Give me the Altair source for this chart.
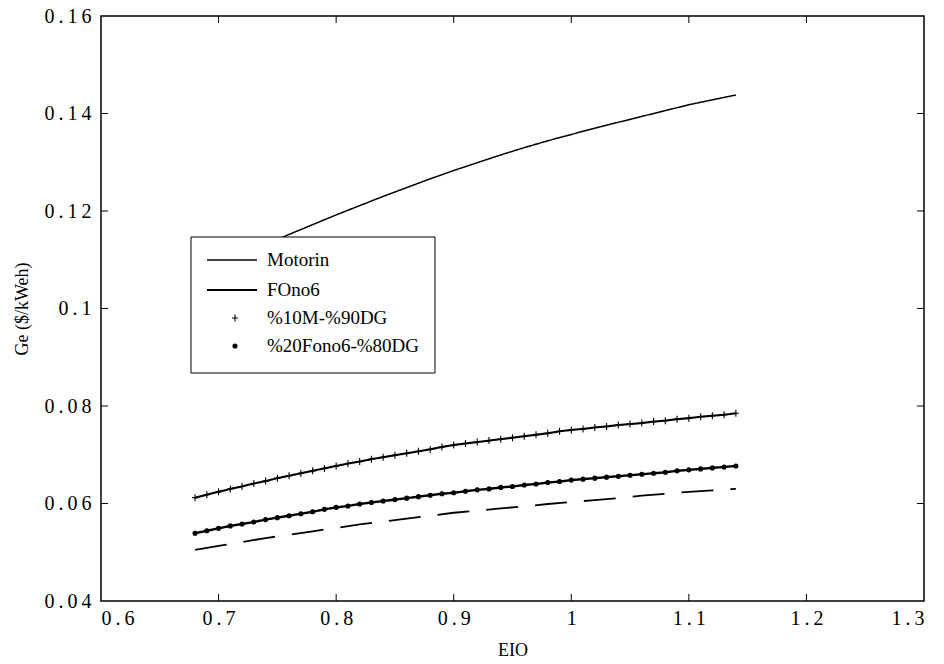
import altair as alt
import pandas as pd

series_names = ["Motorin", "FOno6", "%10M-%90DG", "%20Fono6-%80DG"]

# coarse grid for the two plain lines
x_line = [0.68, 0.70, 0.72, 0.74, 0.76, 0.78, 0.80, 0.82, 0.84, 0.86, 0.88, 0.90,
          0.92, 0.94, 0.96, 0.98, 1.00, 1.02, 1.04, 1.06, 1.08, 1.10, 1.12, 1.14]
motorin = [0.1065, 0.1088, 0.1110, 0.1131, 0.1152, 0.1172, 0.1192, 0.1211, 0.1230,
           0.1248, 0.1266, 0.1283, 0.1299, 0.1315, 0.1330, 0.1344, 0.1357, 0.1370,
           0.1382, 0.1394, 0.1406, 0.1418, 0.1428, 0.1438]
fono6 = [0.0505, 0.0513, 0.0521, 0.0529, 0.0536, 0.0543, 0.0550, 0.0557, 0.0563,
         0.0569, 0.0575, 0.0581, 0.0585, 0.0590, 0.0594, 0.0599, 0.0603, 0.0607,
         0.0611, 0.0616, 0.0620, 0.0624, 0.0627, 0.0630]

# fine grid for the marked series
x_mark = [0.68, 0.69, 0.70, 0.71, 0.72, 0.73, 0.74, 0.75, 0.76, 0.77, 0.78, 0.79,
          0.80, 0.81, 0.82, 0.83, 0.84, 0.85, 0.86, 0.87, 0.88, 0.89, 0.90, 0.91,
          0.92, 0.93, 0.94, 0.95, 0.96, 0.97, 0.98, 0.99, 1.00, 1.01, 1.02, 1.03,
          1.04, 1.05, 1.06, 1.07, 1.08, 1.09, 1.10, 1.11, 1.12, 1.13, 1.14]
m10_dg90 = [0.0612, 0.0618, 0.0624, 0.0630, 0.0635, 0.0641, 0.0646, 0.0652, 0.0657,
            0.0662, 0.0667, 0.0672, 0.0677, 0.0682, 0.0686, 0.0691, 0.0695, 0.0699,
            0.0703, 0.0707, 0.0711, 0.0716, 0.0720, 0.0723, 0.0726, 0.0729, 0.0732,
            0.0735, 0.0738, 0.0741, 0.0744, 0.0748, 0.0751, 0.0753, 0.0756, 0.0758,
            0.0761, 0.0763, 0.0765, 0.0768, 0.0770, 0.0773, 0.0775, 0.0778, 0.0780,
            0.0782, 0.0785]
f20_dg80 = [0.0539, 0.0544, 0.0549, 0.0554, 0.0558, 0.0562, 0.0567, 0.0571, 0.0575,
            0.0579, 0.0583, 0.0588, 0.0592, 0.0595, 0.0599, 0.0602, 0.0605, 0.0608,
            0.0611, 0.0614, 0.0617, 0.0620, 0.0622, 0.0625, 0.0628, 0.0630, 0.0633,
            0.0635, 0.0638, 0.0640, 0.0643, 0.0645, 0.0648, 0.0650, 0.0652, 0.0654,
            0.0656, 0.0658, 0.0660, 0.0662, 0.0664, 0.0667, 0.0669, 0.0671, 0.0673,
            0.0675, 0.0677]

x_ticks = [0.6, 0.7, 0.8, 0.9, 1.0, 1.1, 1.2, 1.3]
y_ticks = [0.04, 0.06, 0.08, 0.10, 0.12, 0.14, 0.16]

rows = []
for xs, ys, name in [(x_line, motorin, series_names[0]), (x_line, fono6, series_names[1]),
                     (x_mark, m10_dg90, series_names[2]), (x_mark, f20_dg80, series_names[3])]:
    for a, b in zip(xs, ys):
        rows.append({"x": a, "y": b, "series": name, "line_key": name})
df = pd.DataFrame(rows)

W, H = 823, 585
FONT = "Liberation Serif"
SPACED = "join(split({v}, ''), '\u2009')"

xscale = alt.Scale(domain=[0.6, 1.3], nice=False, zero=False)
yscale = alt.Scale(domain=[0.04, 0.16], nice=False, zero=False)
xaxis = alt.Axis(values=x_ticks, labelExpr=SPACED.format(v="format(datum.value, '~g')"),
                 labelPadding=7, titlePadding=13)
yaxis = alt.Axis(values=y_ticks, labelExpr=SPACED.format(v="format(datum.value, '~g')"),
                 labelPadding=10, titlePadding=12)

PLUS = "M-0.6,0L0.6,0M0,-0.7L0,0.7"
DOT = "M-0.4,0A0.4,0.4,0,1,1,0.4,0A0.4,0.4,0,1,1,-0.4,0Z"
shape_paths = ["M-5,0L5,0", "M-5,0L5,0", PLUS, DOT]


def X(field):
    return alt.X(field, scale=xscale, axis=xaxis, title="EIO")


def Y(field):
    return alt.Y(field, scale=yscale, axis=yaxis, title="Ge ($/kWeh)")


lines = alt.Chart(df).mark_line(color="black").encode(
    x=X("x:Q"),
    y=Y("y:Q"),
    detail="line_key:N",
    strokeDash=alt.StrokeDash("line_key:N", scale=alt.Scale(domain=series_names,
                              range=[[1, 0], [32, 17], [1, 0], [1, 0]]), legend=None),
    strokeWidth=alt.StrokeWidth("line_key:N", scale=alt.Scale(domain=series_names,
                                range=[1.5, 2.4, 1.1, 2.6]), legend=None),
)

points = alt.Chart(df).transform_filter(
    alt.FieldOneOfPredicate(field="series", oneOf=series_names[2:])
).mark_point(filled=True, fill="black", stroke="black", strokeWidth=1.1, size=100,
             opacity=1).encode(
    x=X("x:Q"),
    y=Y("y:Q"),
    shape=alt.Shape("series:N", scale=alt.Scale(domain=series_names, range=shape_paths),
                    legend=None),
)

xt = pd.DataFrame({"v": x_ticks[1:-1]})
yt = pd.DataFrame({"v": y_ticks[1:-1]})
tick_bottom = alt.Chart(xt).mark_rule(color="black", strokeWidth=1).encode(
    x=X("v:Q"), y=alt.value(H), y2=alt.value(H - 7))
tick_top = alt.Chart(xt).mark_rule(color="black", strokeWidth=1).encode(
    x=X("v:Q"), y=alt.value(0), y2=alt.value(7))
tick_left = alt.Chart(yt).mark_rule(color="black", strokeWidth=1).encode(
    y=Y("v:Q"), x=alt.value(0), x2=alt.value(7))
tick_right = alt.Chart(yt).mark_rule(color="black", strokeWidth=1).encode(
    y=Y("v:Q"), x=alt.value(W), x2=alt.value(W - 7))

# ---- legend box (drawn with library marks, placed in plot pixels) ----
LEG_LEFT, LEG_RIGHT, LEG_TOP, LEG_BOTTOM = 90, 334, 221, 357
ROW_Y = [244, 274, 302, 330]
SYM_X0, SYM_X1, SYM_XC, TEXT_X = 106, 156, 134, 166
one = pd.DataFrame({"k": [0]})

leg_box = alt.Chart(one).mark_rect(fill="white", stroke="black", strokeWidth=1).encode(
    x=alt.value(LEG_LEFT), x2=alt.value(LEG_RIGHT), y=alt.value(LEG_TOP), y2=alt.value(LEG_BOTTOM))
leg_layers = [leg_box]
for i, name in enumerate(series_names):
    yy = ROW_Y[i]
    if i < 2:
        sym = alt.Chart(one).mark_rule(color="black", strokeWidth=1.5 if i == 0 else 1.8).encode(
            x=alt.value(SYM_X0), x2=alt.value(SYM_X1), y=alt.value(yy))
    else:
        sym = alt.Chart(one).mark_point(shape=PLUS if i == 2 else DOT, size=100, filled=True,
                                        fill="black", stroke="black", strokeWidth=1.1,
                                        opacity=1).encode(
            x=alt.value(SYM_XC), y=alt.value(yy))
    txt = alt.Chart(pd.DataFrame({"label": [name]})).mark_text(
        align="left", baseline="middle", font=FONT, fontSize=19, color="black").encode(
        x=alt.value(TEXT_X), y=alt.value(yy), text="label:N")
    leg_layers += [sym, txt]

chart = alt.layer(lines, points, tick_bottom, tick_top, tick_left, tick_right,
                  *leg_layers).properties(
    width=W, height=H, autosize="none",
    padding={"left": 93, "top": 8, "right": 12, "bottom": 62},
    background="white",
).configure_view(stroke="black", strokeWidth=1.5).configure_axis(
    grid=False, domain=False, ticks=False, labelFont=FONT, labelFontSize=20,
    labelColor="black", titleFont=FONT, titleFontSize=18, titleFontWeight="normal",
    titleColor="black",
)

chart.save("out.html", embed_options={"renderer": "svg", "actions": False})
